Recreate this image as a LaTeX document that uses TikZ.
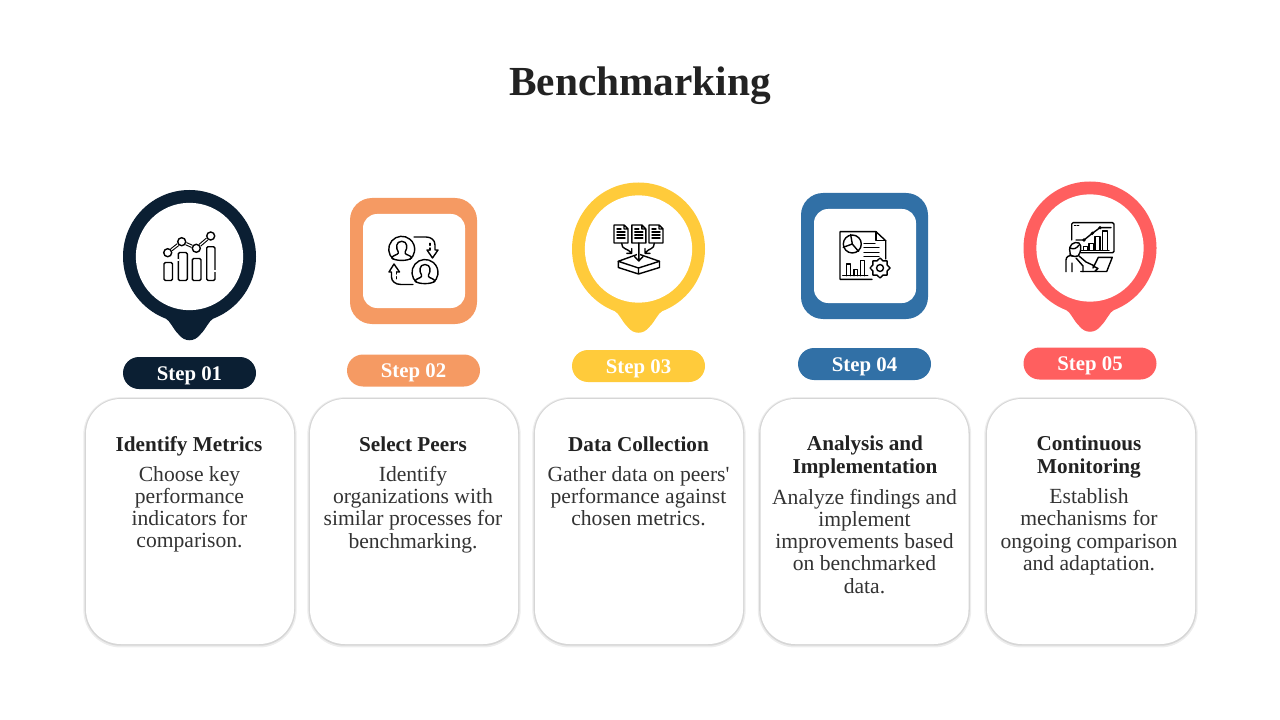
\documentclass[tikz,border=0pt]{standalone}
\usepackage{fontspec}
\usepackage{xcolor}
\setmainfont{Liberation Serif}[Ligatures=TeXOff]
\usetikzlibrary{shapes.geometric}
\definecolor{navy}{HTML}{0B1F33}
\definecolor{peach}{HTML}{F59A63}
\definecolor{sun}{HTML}{FFCB3B}
\definecolor{steel}{HTML}{3170A6}
\definecolor{coral}{HTML}{FF5F5F}
\definecolor{ink}{HTML}{222222}
\definecolor{bodyink}{HTML}{333333}
\begin{document}
\begin{tikzpicture}[x=0.75pt,y=-0.75pt,
    ring/.style={circle, inner sep=0pt, minimum size=99.75pt},
    hole/.style={circle, fill=white, inner sep=0pt, minimum size=80.5pt},
    frame/.style={rounded corners=16.5pt, inner sep=0pt, minimum width=95.25pt, minimum height=94.5pt},
    window/.style={rounded corners=10.5pt, fill=white, inner sep=0pt, minimum width=76.5pt, minimum height=70.5pt},
    pill/.style={rounded corners=12pt, inner sep=0pt, minimum width=99.75pt, minimum height=24pt, text=white, text height=11pt, text depth=0pt, font=\fontsize{15.6}{18}\selectfont\bfseries},
    card/.style={rounded corners=26pt, fill=white, inner sep=0pt, minimum width=156pt, minimum height=183.75pt,
        preaction={draw=black!7, line width=4pt, transform canvas={yshift=-0.6pt}}, preaction={draw=black!16, line width=2pt, transform canvas={yshift=-0.3pt}}},
    headtext/.style={align=center, text=ink, inner sep=0pt, yshift=-2.2pt, font=\fontsize{15.9}{16.7}\selectfont\bfseries, execute at begin node=\strut, execute at end node=\strut},
    bodytext/.style={align=center, text=bodyink, inner sep=0pt, yshift=-2.2pt, font=\fontsize{16.2}{16.7}\selectfont, execute at begin node=\strut, execute at end node=\strut},
    icon/.style={draw=black, line width=1.05pt, line cap=round, line join=round},
    tail/.pic={\fill[pic actions] (-24,-5) .. controls (-19,-2) and (-17,5) .. (-11,11) .. controls (-8,15) and (-4,17) .. (0,17)
        .. controls (4,17) and (8,15) .. (11,11) .. controls (17,5) and (19,-2) .. (24,-5) -- cycle;},
    person/.pic={\draw[icon] (0,0) ++(130:13) arc (130:410:13);
        \draw[icon] (-3.5,2.5) .. controls (-6,-1) and (-6,-8) .. (0,-8) .. controls (6,-8) and (6,-1) .. (3.5,2.5) -- (3.5,4)
        .. controls (4,5.5) and (9,6) .. (10,8.5) .. controls (7,12) and (-7,12) .. (-10,8.5) .. controls (-9,6) and (-4,5.5) .. (-3.5,4) -- cycle;},
    page/.pic={\draw[icon] (-7,-9) -- (3,-9) -- (7,-5) -- (7,9) -- (-7,9) -- cycle (3,-9) -- (3,-5) -- (7,-5);
        \draw[icon] (-4,-5) -- (0,-5) (-4,-2) -- (4,-2) (-4,1) -- (4,1) (-4,4) -- (4,4);}]
\useasboundingbox (0,0) rectangle (1280,720);
\node[font=\fontsize{31}{34}\selectfont\bfseries, text=ink, inner sep=0pt] (title) at (640,86) {Benchmarking};

% pins and frames
\node[ring, fill=navy] (pin1) at (189.5,256.5) {};
\pic[fill=navy] at (pin1.south) {tail};
\node[hole] (hole1) at (pin1) {};
\node[frame, fill=peach] (frame2) at (413.5,261) {};
\node[window] (win2) at (414,261) {};
\node[ring, fill=sun] (pin3) at (638.5,249) {};
\pic[fill=sun] at (pin3.south) {tail};
\node[hole] (hole3) at (pin3) {};
\node[frame, fill=steel] (frame4) at (864.5,256) {};
\node[window] (win4) at (865,256) {};
\node[ring, fill=coral] (pin5) at (1090,248) {};
\pic[fill=coral] at (pin5.south) {tail};
\node[hole] (hole5) at (pin5) {};

% step labels
\node[pill, fill=navy] (step1) at (189.5,373) {Step 01};
\node[pill, fill=peach] (step2) at (413.5,370.5) {Step 02};
\node[pill, fill=sun] (step3) at (638.5,366) {Step 03};
\node[pill, fill=steel] (step4) at (864.5,364) {Step 04};
\node[pill, fill=coral] (step5) at (1090,363.5) {Step 05};

% cards
\node[card] (card1) at (190,521.5) {};
\node[card] (card2) at (414,521.5) {};
\node[card] (card3) at (639,521.5) {};
\node[card] (card4) at (864.5,521.5) {};
\node[card] (card5) at (1091,521.5) {};

\node[headtext] (head1) at (189,444) {Identify Metrics};
\node[bodytext] (text1) at (189.5,507.5) {Choose key\\performance\\indicators for\\comparison.};
\node[headtext] (head2) at (413,444) {Select Peers};
\node[bodytext] (text2) at (413,507.5) {Identify\\organizations with\\similar processes for\\benchmarking.};
\node[headtext] (head3) at (638.5,444) {Data Collection};
\node[bodytext] (text3) at (638.5,496.5) {Gather data on peers'\\performance against\\chosen metrics.};
\node[headtext] (head4) at (865,455) {Analysis and\\Implementation};
\node[bodytext] (text4) at (864.5,541.5) {Analyze findings and\\implement\\improvements based\\on benchmarked\\data.};
\node[headtext] (head5) at (1089,455) {Continuous\\Monitoring};
\node[bodytext] (text5) at (1089,530) {Establish\\mechanisms for\\ongoing comparison\\and adaptation.};

% icon 1
\draw[icon, rounded corners=1pt] (164,262.5) rectangle (172.5,280.5);
\draw[icon, rounded corners=1pt] (178.3,252.5) rectangle (187.3,280.5);
\draw[icon, rounded corners=1pt] (192.3,258.5) rectangle (201,280.5);
\draw[icon, rounded corners=1pt] (206.7,246.7) rectangle (215,280.5);
\draw[white, line width=1.4pt] (178.3,259) -- (178.3,261) (215,270) -- (215,272);
\node[circle, draw=black, line width=1.05pt, inner sep=0pt, minimum size=6pt] (dot1) at (167.7,252.7) {};
\node[circle, draw=black, line width=1.05pt, inner sep=0pt, minimum size=6pt] (dot2) at (181.7,241.7) {};
\node[circle, draw=black, line width=1.05pt, inner sep=0pt, minimum size=6pt] (dot3) at (196.3,248.3) {};
\node[circle, draw=black, line width=1.05pt, inner sep=0pt, minimum size=6pt] (dot4) at (210.7,236) {};
\draw[line width=0.8pt, double=white, double distance=0.9pt] (dot1) -- (dot2);
\draw[line width=0.8pt, double=white, double distance=0.9pt] (dot2) -- (dot3);
\draw[line width=0.8pt, double=white, double distance=0.9pt] (dot3) -- (dot4);

% icon 2
\pic at (401.7,249.3) {person};
\pic at (425,272.5) {person};
\draw[icon] (414,237) -- (426,237) .. controls (431,237) and (435,240) .. (435,245) -- (435,250) -- (438,250) -- (432.5,258) -- (427,250) -- (430,250);
\draw[icon, dashed, dash pattern=on 1.5pt off 2pt] (430,250) -- (430,243);
\draw[icon] (413,284.5) -- (401,284.5) .. controls (395,284.5) and (391.5,281) .. (391.5,277) -- (391.5,272) -- (389,272) -- (394,264) -- (399.5,272) -- (396.5,272);
\draw[icon, dashed, dash pattern=on 1.5pt off 2pt] (396.5,272) -- (396.5,279);

% icon 3
\pic at (621,234) {page};
\pic at (638.8,234) {page};
\pic at (656,234) {page};
\draw[icon] (618.3,261.3) -- (638.5,254) -- (659.5,261.3) -- (638.5,268) -- cycle;
\draw[icon] (618.3,261.3) -- (618.3,267.5) -- (638.5,274) -- (659.5,267.5) -- (659.5,261.3) (638.5,268) -- (638.5,274);
\draw[white, line width=2.2pt] (638.8,244) -- (638.8,258);
\draw[icon] (638.8,243) -- (638.8,261) (634.5,256.5) -- (638.8,261) -- (643,256.5);
\draw[icon] (621.7,243.3) .. controls (622,250) and (626,247) .. (631.7,253.3) (631.7,248.5) -- (631.7,253.3) -- (626.8,253.3);
\draw[icon] (654.3,243.3) .. controls (654,250) and (650,247) .. (645,253.3) (645,248.5) -- (645,253.3) -- (650,253.3);

% icon 4
\draw[icon] (872,279.3) -- (840,279.3) -- (840,231.7) -- (876,231.7) -- (885.7,240.7) -- (885.7,259);
\draw[icon] (876,231.7) -- (876,240.7) -- (885.7,240.7);
\node[circle, draw=black, line width=1.05pt, inner sep=0pt, minimum size=13.5pt] (pie4) at (852.3,244) {};
\draw[icon] (pie4.center) -- (pie4.100) (pie4.center) -- (pie4.200) (pie4.center) -- (pie4.310);
\draw[icon] (864,243.3) -- (875,243.3) (864,247.7) -- (879,247.7) (864,252.3) -- (879,252.3) (864,256.7) -- (879,256.7);
\draw[icon] (846.7,275.7) -- (846.7,264) -- (850.7,264) -- (850.7,275.7);
\draw[icon] (854,275.7) -- (854,269.3) -- (857.7,269.3) -- (857.7,275.7);
\draw[icon] (860.7,275.7) -- (860.7,260.7) -- (864.3,260.7) -- (864.3,275.7);
\draw[icon] (842.7,275.7) -- (867.7,275.7);
\node[star, star points=8, star point ratio=1.3, draw=black, fill=white, line width=1.05pt, line join=round, inner sep=0pt, minimum size=15pt] (gear4) at (880,268) {};
\node[circle, draw=black, line width=1.05pt, inner sep=0pt, minimum size=5.2pt] (axle4) at (gear4) {};

% icon 5
\draw[icon, rounded corners=1pt] (1071.7,240) -- (1071.7,222.7) -- (1114,222.7) -- (1114,252.7) -- (1080.7,252.7);
\draw[icon, dashed, dash pattern=on 1pt off 1.2pt] (1074.5,225.7) -- (1080,225.7);
\draw[icon] (1083.3,250) -- (1083.3,246.7) -- (1087.7,246.7) -- (1087.7,250);
\draw[icon] (1089,250) -- (1089,243.3) -- (1093.3,243.3) -- (1093.3,250);
\draw[icon] (1095,250) -- (1095,236.7) -- (1100,236.7) -- (1100,250);
\draw[icon] (1102.3,250) -- (1102.3,231) -- (1107.7,231) -- (1107.7,250);
\draw[icon] (1080,250.3) -- (1109,250.3);
\draw[icon] (1076,240) -- (1084,240) -- (1092.3,233.3) -- (1100,227.7) -- (1111,227.7);
\fill (1084,240) circle (1.8) (1092.3,233.3) circle (1.8) (1100,227.7) circle (1.8);
\draw[icon, fill=white] (1070,252) .. controls (1068,245) and (1074,241) .. (1079,243) .. controls (1082,246) and (1081,252) .. (1078,256) .. controls (1073,257) and (1069,256) .. (1070,252) -- cycle;
\draw[icon] (1070,248) .. controls (1074,250) and (1077,248) .. (1079,245);
\draw[icon] (1066,271.7) -- (1066,260) .. controls (1066,256) and (1070,255) .. (1073,256);
\draw[icon] (1079,256) -- (1086,262) -- (1094,265.7) (1076,258) -- (1083,266) -- (1083,271.7) (1072,263) -- (1072,271.7);
\draw[icon] (1098.3,257.3) -- (1112.3,257.3) -- (1106.7,271.5) -- (1080.7,271.5) (1098.3,257.3) -- (1093,268) (1093,266) -- (1098,268.5) -- (1095,271);
\end{tikzpicture}
\end{document}
